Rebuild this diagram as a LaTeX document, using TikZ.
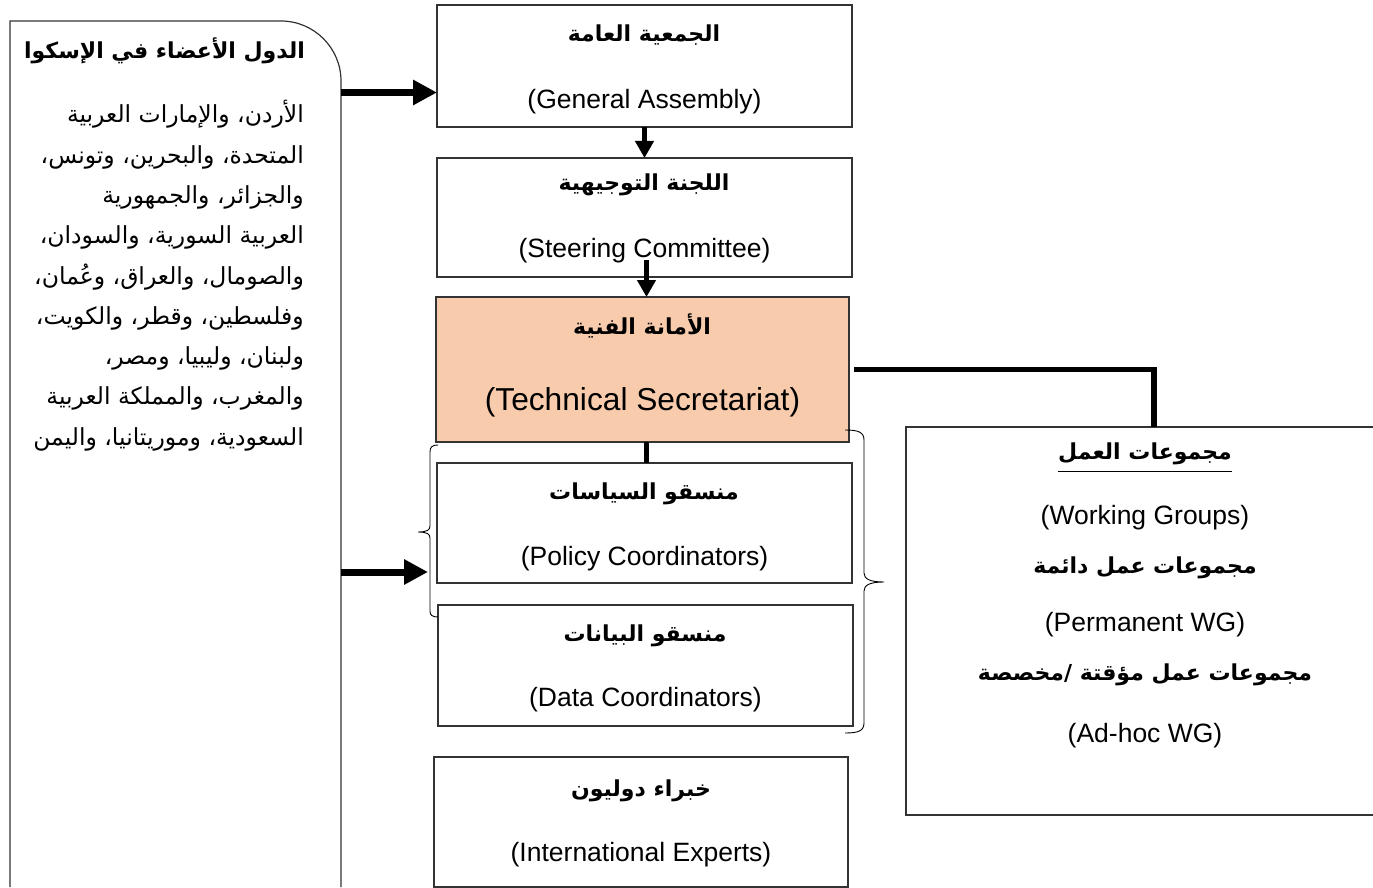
\documentclass[tikz,border=0pt]{standalone}
\usepackage{fontspec}
\setmainfont{Liberation Sans}
\newfontfamily\arabicfont[Script=Arabic]{DejaVu Sans}
\TeXXeTstate=1
\usetikzlibrary{arrows.meta}
\newcommand{\artxt}[1]{{\arabicfont\beginR #1\endR}}
\newcommand{\arbold}[1]{{\arabicfont\bfseries\beginR #1\endR}}
\definecolor{peach}{HTML}{F8CBAD}
\begin{document}
\begin{tikzpicture}[x=1pt,y=-1pt,
  box/.style={draw=black!80, line width=1.2pt, inner sep=0, outer sep=0},
  en/.style={inner sep=0, font=\fontsize{26.5}{30}\selectfont},
  enbig/.style={inner sep=0, font=\fontsize{31.7}{36}\selectfont},
  arb/.style={inner sep=0, font=\fontsize{22}{26}\selectfont},
  arr/.style={inner sep=0, font=\fontsize{23.5}{28}\selectfont},
  bigarrow/.style={line width=7pt, -{Triangle[length=24pt,width=24pt]}},
  smallarrow/.style={line width=5pt, -{Triangle[length=17pt,width=18pt]}},
  conn/.style={line width=5.5pt},
  bracestyle/.style={line width=0.9pt, black}]
\useasboundingbox (0,0) rectangle (1373,888);
\clip (0,0) rectangle (1373,888);
\fill[white] (0,0) rectangle (1373,888);

% left members box
\node[inner sep=0, minimum width=331, minimum height=866] (mem) at (175.5,454) {};
\draw[box] (10,887) -- (10,21) -- (281,21) .. controls (314,21) and (341,48) .. (341,81) -- (341,887);
\node[arb] (memt) at (164.5,51) {\arbold{الدول الأعضاء في الإسكوا}};
\foreach \t [count=\i] in {{الأردن، والإمارات العربية},{المتحدة، والبحرين، وتونس،},{والجزائر، والجمهورية},{العربية السورية، والسودان،},{والصومال، والعراق، وعُمان،},{وفلسطين، وقطر، والكويت،},{ولبنان، وليبيا، ومصر،},{والمغرب، والمملكة العربية},{السعودية، وموريتانيا، واليمن}}
  \node[arr, anchor=base east] (m\i) at (304,{123+40.25*(\i-1)}) {\artxt{\t}};

% boxes
\node[box, minimum width=415, minimum height=122] (ga) at (644.5,66) {};
\node[arb] (gaa) at (644,35) {\arbold{الجمعية العامة}};
\node[en] (gae) at (644.5,102) {(General Assembly)};

\node[box, minimum width=415, minimum height=119] (st) at (644.5,217.5) {};
\node[arb] (sta) at (644,185) {\arbold{اللجنة التوجيهية}};
\node[en] (ste) at (644.5,251) {(Steering Committee)};

\node[box, fill=peach, minimum width=413, minimum height=145] (ts) at (642.5,369.5) {};
\node[arb] (tsa) at (642,326) {\arbold{الأمانة الفنية}};
\node[enbig] (tse) at (642.5,402) {(Technical Secretariat)};

\node[box, minimum width=415, minimum height=120] (pol) at (644.5,523) {};
\node[arb] (pola) at (644,494) {\arbold{منسقو السياسات}};
\node[en] (pole) at (644.5,559) {(Policy Coordinators)};

\node[box, minimum width=415, minimum height=121] (dat) at (645.5,665.5) {};
\node[arb] (data) at (645,636) {\arbold{منسقو البيانات}};
\node[en] (date) at (645.5,700) {(Data Coordinators)};

\node[box, minimum width=414, minimum height=130] (exp) at (641,822) {};
\node[arb] (expa) at (641,791) {\arbold{خبراء دوليون}};
\node[en] (expe) at (641,855) {(International Experts)};

\node[box, minimum width=479, minimum height=388] (wg) at (1145.5,621) {};
\node[arb] (wg1) at (1145,454) {\arbold{مجموعات العمل}};
\draw[line width=1pt] ([yshift=-12pt]wg1.base west) -- ([yshift=-12pt]wg1.base east);
\node[en] (wg2) at (1145,518) {(Working Groups)};
\node[arb] (wg3) at (1145,568) {\arbold{مجموعات عمل دائمة}};
\node[en] (wg4) at (1145,625) {(Permanent WG)};
\node[arb] (wg5) at (1145,675) {\arbold{مجموعات عمل مؤقتة /مخصصة}};
\node[en] (wg6) at (1145,736) {(Ad-hoc WG)};

% connectors
\coordinate (y1) at (0,92.5);
\coordinate (y2) at (0,572);
\coordinate (cx) at (646.5,0);
\coordinate (wx) at (1154,0);
\draw[bigarrow] (mem.east |- y1) -- (ga.west |- y1);
\draw[bigarrow] (mem.east |- y2) -- ([xshift=-9pt]pol.west |- y2);
\draw[smallarrow] (ga.south) -- (st.north);
\draw[smallarrow] ([yshift=17pt]st.south -| cx) -- (ts.north -| cx);
\draw[conn] (ts.south -| cx) -- (pol.north -| cx);
\draw[conn] ([xshift=5pt]ts.east) -- (ts.east -| wx) -- (wg.north -| wx);

% braces
\draw[bracestyle] (438,445) .. controls (432,445) and (430,447) .. (430,452) -- (430,526)
  .. controls (430,530) and (427,532) .. (418,532) .. controls (427,532) and (430,534) .. (430,538)
  -- (430,611) .. controls (430,615) and (432,617) .. (438,617);
\draw[bracestyle] (845,430) .. controls (858,430) and (864,432) .. (864,440) -- (864,573)
  .. controls (864,579) and (870,582) .. (884,582) .. controls (870,582) and (864,585) .. (864,591)
  -- (864,723) .. controls (864,731) and (858,733) .. (845,733);
\end{tikzpicture}
\end{document}
